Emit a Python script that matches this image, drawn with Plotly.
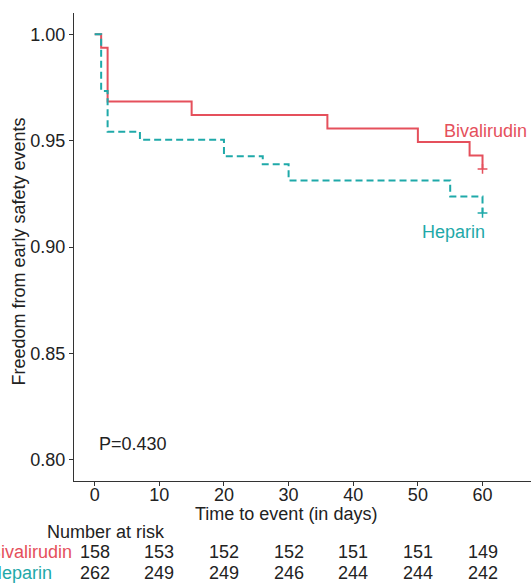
import plotly.graph_objects as go

# ---- data ----
biv_time = [0, 1, 2, 15, 36, 50, 58, 60]
biv_surv = [1.0, 0.9937, 0.9684, 0.962, 0.9557, 0.9494, 0.943, 0.9367]
hep_time = [0, 1, 2, 7, 20, 26, 30, 55, 60]
hep_surv = [1.0, 0.9733, 0.9542, 0.9504, 0.9427, 0.9389, 0.9313, 0.9237, 0.916]
censor_time = 60
risk_times = [0, 10, 20, 30, 40, 50, 60]
biv_risk = [158, 153, 152, 152, 151, 151, 149]
hep_risk = [262, 249, 249, 246, 244, 244, 242]
x_ticks = [0, 10, 20, 30, 40, 50, 60]
y_ticks = [0.80, 0.85, 0.90, 0.95, 1.00]
p_text = "P=0.430"

RED = "#E5505C"
TEAL = "#1FA9A9"
FONT = "Liberation Sans, Arial, sans-serif"
TXT = "#222222"

fig = go.Figure()
fig.add_trace(go.Scatter(x=biv_time, y=biv_surv, mode="lines", line_shape="hv",
                         line=dict(color=RED, width=2), showlegend=False, hoverinfo="skip"))
fig.add_trace(go.Scatter(x=hep_time, y=hep_surv, mode="lines", line_shape="hv",
                         line=dict(color=TEAL, width=2, dash="7px,4px"), showlegend=False, hoverinfo="skip"))
fig.add_trace(go.Scatter(x=[censor_time], y=[biv_surv[-1]], mode="markers",
                         marker=dict(symbol="cross-thin", size=7, line=dict(color=RED, width=1.5)),
                         showlegend=False, hoverinfo="skip"))
fig.add_trace(go.Scatter(x=[censor_time], y=[hep_surv[-1]], mode="markers",
                         marker=dict(symbol="cross-thin", size=7, line=dict(color=TEAL, width=1.5)),
                         showlegend=False, hoverinfo="skip"))

ann = []
# curve labels
ann.append(dict(x=53.7, y=0.9543, xref="x", yref="y", text="Bivalirudin", showarrow=False,
                xanchor="left", yanchor="middle", font=dict(color=RED, size=18, family=FONT)))
ann.append(dict(x=50.3, y=0.9069, xref="x", yref="y", text="Heparin", showarrow=False,
                xanchor="left", yanchor="middle", font=dict(color=TEAL, size=18, family=FONT)))
# p value
ann.append(dict(x=0.35, y=0.8072, xref="x", yref="y", text=p_text, showarrow=False,
                xanchor="left", yanchor="middle", font=dict(color=TXT, size=18, family=FONT)))
# axis titles
ann.append(dict(x=29.6, y=-0.070, xref="x", yref="paper", text="Time to event (in days)", showarrow=False,
                xanchor="center", yanchor="middle", font=dict(color=TXT, size=18, family=FONT)))
ann.append(dict(x=-0.1207, y=0.490, xref="paper", yref="paper", text="Freedom from early safety events",
                showarrow=False, textangle=-90, xanchor="center", yanchor="middle",
                font=dict(color=TXT, size=18, family=FONT)))
# risk table
ann.append(dict(x=-0.064, y=-0.109, xref="paper", yref="paper", text="Number at risk", showarrow=False,
                xanchor="left", yanchor="middle", font=dict(color=TXT, size=18, family=FONT)))
ann.append(dict(x=-0.19, y=-0.151, xref="paper", yref="paper", text="Bivalirudin", showarrow=False,
                xanchor="left", yanchor="middle", font=dict(color=RED, size=18, family=FONT)))
ann.append(dict(x=-0.19, y=-0.197, xref="paper", yref="paper", text="Heparin", showarrow=False,
                xanchor="left", yanchor="middle", font=dict(color=TEAL, size=18, family=FONT)))
for t, b, h in zip(risk_times, biv_risk, hep_risk):
    ann.append(dict(x=t, y=-0.151, xref="x", yref="paper", text=str(b), showarrow=False,
                    xanchor="center", yanchor="middle", font=dict(color=TXT, size=18, family=FONT)))
    ann.append(dict(x=t, y=-0.197, xref="x", yref="paper", text=str(h), showarrow=False,
                    xanchor="center", yanchor="middle", font=dict(color=TXT, size=18, family=FONT)))

fig.update_layout(
    width=531, height=583,
    margin=dict(l=74, r=0, t=13, b=102),
    paper_bgcolor="white", plot_bgcolor="white",
    font=dict(family=FONT, size=18, color=TXT),
    annotations=ann,
    xaxis=dict(range=[-3.2, 67.5], tickvals=x_ticks, ticktext=[str(v) for v in x_ticks],
               showgrid=False, zeroline=False, showline=True, linecolor="#333333", linewidth=1.3,
               ticks="outside", ticklen=4, tickcolor="#333333", tickwidth=1.1, ticklabelstandoff=-7,
               tickfont=dict(size=18, color=TXT, family=FONT), automargin=False),
    yaxis=dict(range=[0.79, 1.01], tickvals=y_ticks, ticktext=[f"{v:.2f}" for v in y_ticks],
               showgrid=False, zeroline=False, showline=True, linecolor="#333333", linewidth=1.3,
               ticks="outside", ticklen=4, tickcolor="#333333", tickwidth=1.1,
               tickfont=dict(size=18, color=TXT, family=FONT), automargin=False),
)
fig.write_html("out.html", config={"displayModeBar": False},
               post_script="document.body.style.margin='0';document.body.style.overflow='hidden';")
